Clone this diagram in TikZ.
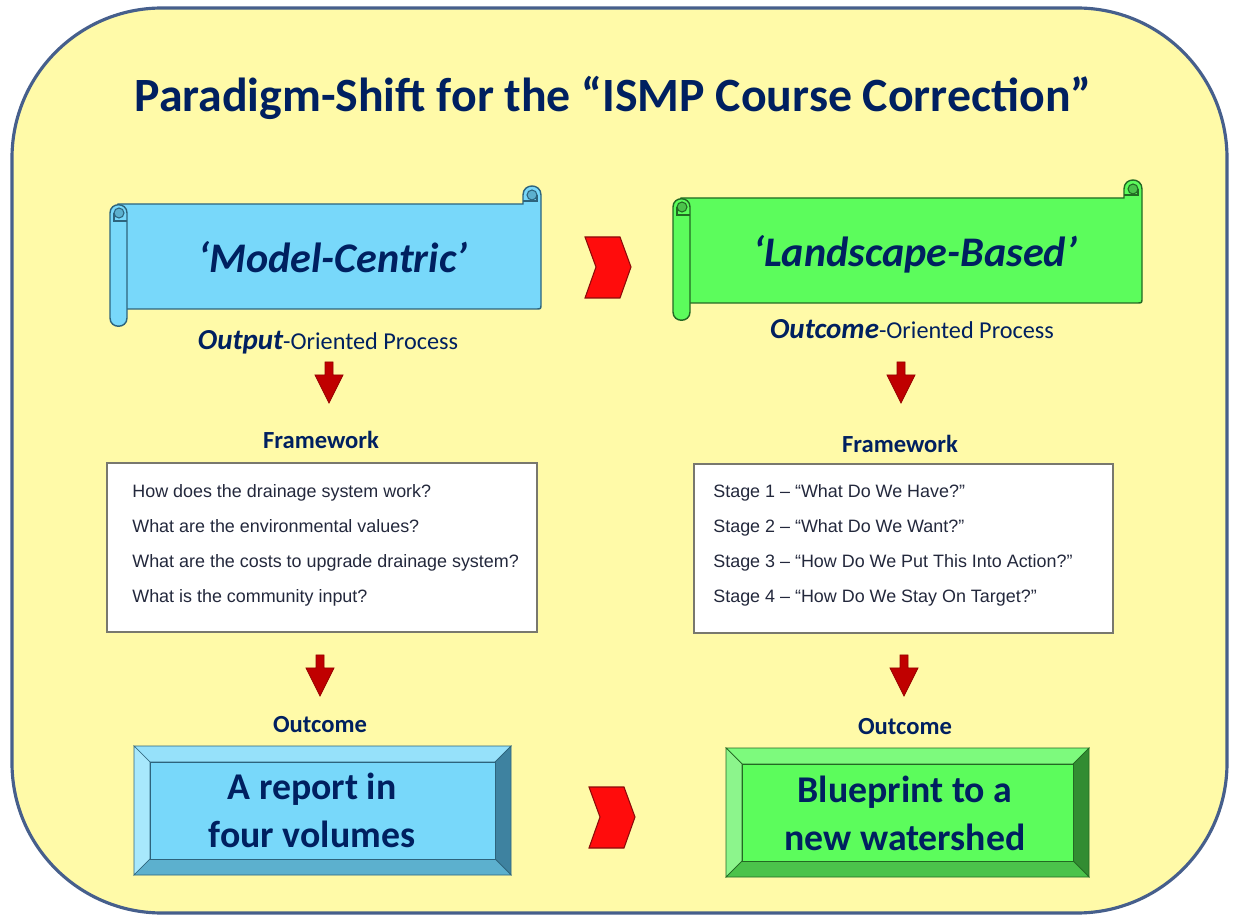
\documentclass[tikz,border=0pt]{standalone}
\usepackage{fontspec}
\setmainfont{Carlito}
\newfontfamily\arialfont{Liberation Sans}
\usetikzlibrary{positioning}

\definecolor{navy}{RGB}{0,32,96}
\definecolor{pad}{RGB}{255,250,168}
\definecolor{padedge}{RGB}{70,95,140}
\definecolor{qtext}{RGB}{35,40,60}
% blue set
\definecolor{bluI}{RGB}{120,216,250}
\definecolor{bluL}{RGB}{168,232,252}
\definecolor{bluT}{RGB}{150,225,250}
\definecolor{bluR}{RGB}{62,130,160}
\definecolor{bluB}{RGB}{92,176,206}
\definecolor{bluD}{RGB}{45,100,125}
% green set
\definecolor{grnI}{RGB}{92,252,92}
\definecolor{grnL}{RGB}{140,245,140}
\definecolor{grnT}{RGB}{125,250,125}
\definecolor{grnR}{RGB}{50,140,50}
\definecolor{grnB}{RGB}{75,195,75}
\definecolor{grnD}{RGB}{35,105,35}

\tikzset{
    banner/.style={font=\fontsize{24}{28}\selectfont\bfseries\itshape, text=navy},
    process/.style={text=navy, anchor=base},
    heading/.style={font=\fontsize{14}{16}\selectfont\bfseries, text=navy, anchor=base},
    question/.style={font=\arialfont\fontsize{10.2}{12}\selectfont, text=qtext, anchor=base west, inner sep=0pt},
    qbox/.style={draw={rgb,255:red,120;green,120;blue,110}, line width=1pt, fill=white},
    result/.style={font=\fontsize{21.5}{27.3}\selectfont\bfseries, text=navy, align=center},
    chevron/.style={fill={rgb,255:red,255;green,12;blue,12}, draw={rgb,255:red,140;green,10;blue,10}, line width=0.6pt},
    downarrow/.style={fill={rgb,255:red,192;green,0;blue,0}, draw={rgb,255:red,150;green,0;blue,0}, line width=0.4pt},
}

% scroll banner: x0, y0, x1, y1, colour prefix
\newcommand{\scrollbanner}[5]{%
    \draw[fill=#5I, draw=#5D, line width=0.8pt]
        (#1+8,#2) -- (#3-18,#2) -- (#3-18,#2-9)
        .. controls (#3-18,#2-21) and (#3,#2-21) .. (#3,#2-9)
        -- (#3,#4-5) .. controls (#3,#4) .. (#3-5,#4) -- (#1+8,#4) -- cycle;
    \draw[fill=#5B, draw=#5D, line width=0.6pt] (#3-9,#2-9) circle (0.1cm);
    \draw[draw=#5D, line width=0.6pt] (#3-4,#2-9) -- (#3-4,#2-3) -- (#3-18,#2-3);
    \draw[fill=#5I, draw=#5D, line width=0.8pt]
        (#1,#2+9) .. controls (#1,#2-2) and (#1+17,#2-2) .. (#1+17,#2+9)
        -- (#1+17,#4+9) .. controls (#1+17,#4+20) and (#1,#4+20) .. (#1,#4+9) -- cycle;
    \draw[fill=#5B, draw=#5D, line width=0.6pt] (#1+9,#2+9) circle (0.1cm);
    \draw[draw=#5D, line width=0.6pt] (#1+4,#2+9) -- (#1+4,#2+17) -- (#1+17,#2+17);
}

% bevelled box: x0, y0, x1, y1, colour prefix
\newcommand{\bevelbox}[5]{%
    \draw[fill=#5T, draw=#5D] (#1,#2) -- (#3,#2) -- (#3-16,#2+16) -- (#1+16,#2+16) -- cycle;
    \draw[fill=#5L, draw=#5D] (#1,#2) -- (#1+16,#2+16) -- (#1+16,#4-16) -- (#1,#4) -- cycle;
    \draw[fill=#5R, draw=#5D] (#3,#2) -- (#3,#4) -- (#3-16,#4-16) -- (#3-16,#2+16) -- cycle;
    \draw[fill=#5B, draw=#5D] (#1,#4) -- (#3,#4) -- (#3-16,#4-16) -- (#1+16,#4-16) -- cycle;
    \draw[fill=#5I, draw=#5D] (#1+16,#2+16) rectangle (#3-16,#4-16);
}

\begin{document}
\begin{tikzpicture}[x=0.02cm, y=-0.02cm]
    \useasboundingbox (0,0) rectangle (1238,918);
    \fill[white] (0,0) rectangle (1238,918);
    \draw[fill=pad, draw=padedge, line width=1.8pt, rounded corners=3cm] (12,8) rectangle (1227,913);

    \node[font=\fontsize{27.2}{31}\selectfont\bfseries, text=navy, anchor=base] (title) at (613,112)
        {Paradigm-Shift for the “ISMP Course Correction”};

    % the two banners
    \scrollbanner{110}{204}{541}{309}{blu}
    \scrollbanner{673}{198}{1142}{303}{grn}
    \node[banner, anchor=base] (mc) at (333,273) {‘Model-Centric’};
    \node[banner, anchor=base] (lb) at (915,267) {‘Landscape-Based’};

    \node[process] (outL) at (328,350)
        {\fontsize{16.5}{18}\selectfont\bfseries\itshape Output\fontsize{13.8}{16}\selectfont\mdseries\upshape -Oriented Process};
    \node[process] (outR) at (912,339)
        {\fontsize{16.5}{18}\selectfont\bfseries\itshape Outcome\fontsize{13.8}{16}\selectfont\mdseries\upshape -Oriented Process};

    % block arrows
    \foreach \x/\y in {585/237, 589/787}
        \draw[chevron] (\x,\y) -- ++(35,0) -- ++(11,30) -- ++(-11,31) -- ++(-35,0) -- ++(11,-31) -- cycle;
    \foreach \x/\y in {329/362, 901/362, 320/655, 904/655}
        \draw[downarrow] (\x-4,\y) -- (\x+4,\y) -- (\x+4,\y+13) -- (\x+14,\y+13) -- (\x,\y+41)
            -- (\x-14,\y+13) -- (\x-4,\y+13) -- cycle;

    % frameworks
    \node[heading] (fwL) at (321,449) {Framework};
    \node[heading] (fwR) at (900,453) {Framework};
    \draw[qbox] (107,463) rectangle (537,632);
    \draw[qbox] (694,464) rectangle (1113,633);
    \foreach \t [count=\i] in {How does the drainage system work?, What are the environmental values?,
            What are the costs to upgrade drainage system?, What is the community input?}
        \node[question] (qL\i) at (132,463+35*\i) {\t};
    \foreach \t [count=\i] in {Stage 1 – “What Do We Have?”, Stage 2 – “What Do We Want?”,
            Stage 3 – “How Do We Put This Into Action?”, Stage 4 – “How Do We Stay On Target?”}
        \node[question] (qR\i) at (713,463+35*\i) {\t};

    % outcomes
    \node[heading] (ocL) at (320,732) {Outcome};
    \node[heading] (ocR) at (905,735) {Outcome};
    \bevelbox{134}{746}{511}{875}{blu}
    \bevelbox{726}{748}{1089}{877}{grn}
    \node[result] (resL) at (312,810) {A report in\\four volumes};
    \node[result] (resR) at (905,813) {Blueprint to a\\new watershed};
\end{tikzpicture}
\end{document}
